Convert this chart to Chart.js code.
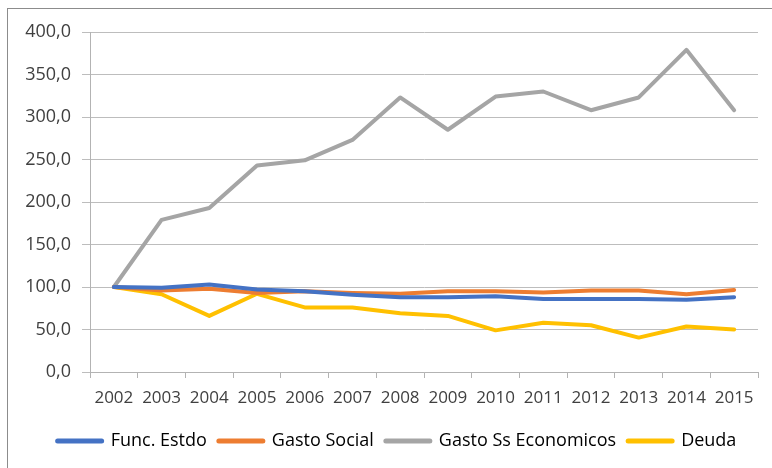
<!DOCTYPE html>
<html lang="es">
<head>
<meta charset="UTF-8">
<title>Indices de gasto 2002-2015</title>
<script src="https://cdn.jsdelivr.net/npm/chart.js@4.4.1/dist/chart.umd.min.js"></script>
<style>
    body { margin: 0; background: #fff; overflow: hidden; }
    .frame {
        position: absolute;
        left: 7px; top: 8px;
        width: 800px; height: 500px;
        border: 1px solid #8c8c8c;
    }
    canvas { position: absolute; left: 0; top: 0; }
</style>
</head>
<body>
<div class="frame"></div>
<canvas id="chart" width="772" height="468"></canvas>
<script>
    const years = ['2002', '2003', '2004', '2005', '2006', '2007', '2008', '2009', '2010', '2011', '2012', '2013', '2014', '2015'];
    const funcEstado = [100, 99, 103, 97, 95, 91, 88, 88, 89, 86, 86, 86, 85, 88];
    const gastoSocial = [100, 96, 98, 93, 95, 93, 92, 95, 95, 93.5, 96, 96, 91.5, 96.5];
    const gastoEconomicos = [100, 179, 193, 243, 249, 273, 323, 285, 324, 330, 308, 323, 379, 308];
    const deuda = [100, 91.5, 66, 92, 76, 76, 69, 66, 49, 58, 55, 40.5, 53.5, 50];

    const seriesNames = ['Func. Estdo', 'Gasto Social', 'Gasto Ss Economicos', 'Deuda'];
    const seriesColors = ['#4472C4', '#ED7D31', '#A5A5A5', '#FFC000'];
    const seriesData = [funcEstado, gastoSocial, gastoEconomicos, deuda];

    const font = '"Open Sans", Lato, sans-serif';
    const textColor = '#404040';

    // nudge the legend a bit to the right, like the original
    const shiftLegend = {
        id: 'shiftLegend',
        afterLayout(chart) {
            if (chart.legend) chart.legend.left += 36;
        }
    };

    new Chart(document.getElementById('chart'), {
        type: 'line',
        data: {
            labels: years,
            datasets: seriesData.map((d, i) => ({
                label: seriesNames[i],
                data: d,
                borderColor: seriesColors[i],
                backgroundColor: seriesColors[i],
                borderWidth: 4,
                borderJoinStyle: 'round',
                borderCapStyle: 'round',
                pointRadius: 0,
                tension: 0
            }))
        },
        options: {
            responsive: false,
            animation: false,
            layout: { padding: { top: 32, right: 14, left: 0, bottom: 8 } },
            plugins: {
                tooltip: { enabled: false },
                legend: {
                    position: 'bottom',
                    labels: {
                        font: { family: font, size: 18 },
                        color: textColor,
                        usePointStyle: true,
                        pointStyleWidth: 44,
                        boxHeight: 5,
                        padding: 12,
                        generateLabels: chart => chart.data.datasets.map((ds, i) => ({
                            text: ds.label,
                            fillStyle: ds.borderColor,
                            strokeStyle: ds.borderColor,
                            lineWidth: 5,
                            lineCap: 'round',
                            pointStyle: 'line',
                            datasetIndex: i
                        }))
                    }
                }
            },
            scales: {
                x: {
                    offset: true,
                    grid: {
                        offset: true,
                        drawOnChartArea: false,
                        drawTicks: true,
                        tickLength: 6,
                        color: '#b3b3b3'
                    },
                    border: { color: '#b3b3b3' },
                    ticks: {
                        font: { family: font, size: 17 },
                        color: textColor,
                        padding: 10,
                        maxRotation: 0
                    },
                    afterFit: s => { s.height = 48; }
                },
                y: {
                    min: 0,
                    max: 400,
                    grid: {
                        color: '#bdbdbd',
                        tickLength: 8
                    },
                    border: { color: '#b3b3b3' },
                    ticks: {
                        stepSize: 50,
                        font: { family: font, size: 18 },
                        color: textColor,
                        padding: 11,
                        callback: v => v.toFixed(1).replace('.', ',')
                    },
                    afterFit: s => { s.width = 90; }
                }
            }
        },
        plugins: [shiftLegend]
    });
</script>
</body>
</html>
